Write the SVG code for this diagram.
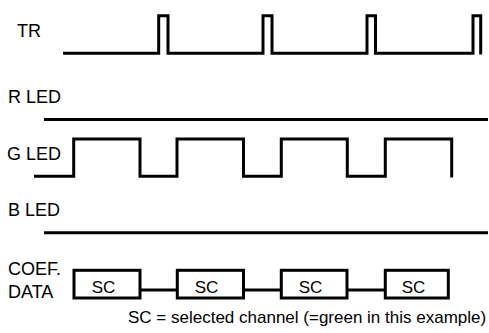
<svg xmlns="http://www.w3.org/2000/svg" width="489" height="333" viewBox="0 0 489 333">
<style>
text{font-family:"Liberation Sans",Arial,sans-serif;font-size:17px;fill:#000}
.lbl{font-size:18px}
.w{fill:none;stroke:#000;stroke-width:3;stroke-linejoin:miter;stroke-linecap:butt}
.box{fill:#fff;stroke:#000;stroke-width:3}
.sc{text-anchor:middle}
</style>
<rect width="489" height="333" fill="#fff"/>
<g id="tr">
<text class="lbl" x="17" y="37">TR</text>
<path class="w" d="M63,53.2 H158.7 V15.7 H168 V53.2 H263 V15.7 H272 V53.2 H367 V15.7 H375.5 V53.2 H473 V15.7 H480.7 V54.5"/>
</g>
<g id="rled">
<text class="lbl" x="8" y="103">R LED</text>
<path class="w" d="M44,119.5 H488"/>
</g>
<g id="gled">
<text class="lbl" x="7" y="160">G LED</text>
<path class="w" d="M34,176.3 H73.7 V139 H140 V176.3 H177 V139 H243.5 V176.3 H281.3 V139 H347.3 V176.3 H385.3 V139 H451.7 V177.5"/>
</g>
<g id="bled">
<text class="lbl" x="8" y="216">B LED</text>
<path class="w" d="M44,232.7 H488"/>
</g>
<g id="coef">
<text class="lbl" x="8" y="275">COEF.</text>
<text class="lbl" x="8" y="298">DATA</text>
</g>
<g id="connectors">
<path class="w" d="M140,290 H177.3 M243.5,290 H281.3 M347,290 H385.3"/>
</g>
<g id="sc1"><rect class="box" x="74" y="270.3" width="66" height="27.7"/><text class="sc" x="103.5" y="292.5">SC</text></g>
<g id="sc2"><rect class="box" x="177.3" y="270.3" width="66.2" height="27.7"/><text class="sc" x="206.5" y="292.5">SC</text></g>
<g id="sc3"><rect class="box" x="281.3" y="270.3" width="65.7" height="27.7"/><text class="sc" x="310.5" y="292.5">SC</text></g>
<g id="sc4"><rect class="box" x="385.3" y="270.3" width="63" height="27.7"/><text class="sc" x="413.5" y="292.5">SC</text></g>
<g id="legend">
<text x="128" y="323">SC = selected channel (=green in this example)</text>
</g>
</svg>
